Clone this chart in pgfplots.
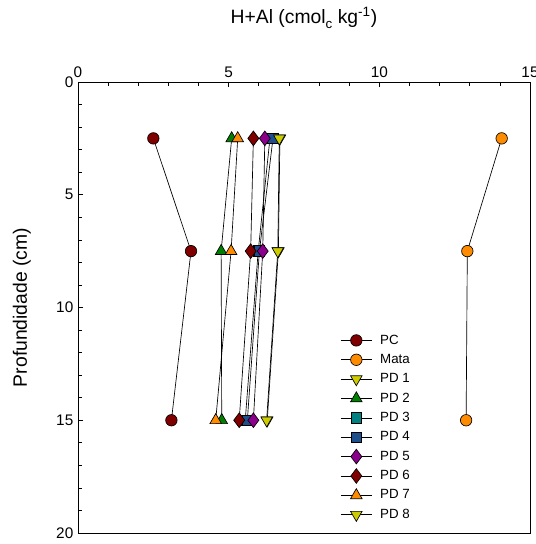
\documentclass[border=0pt]{standalone}
\usepackage{fontspec}
\setmainfont{Liberation Sans}
\usepackage{pgfplots}
\pgfplotsset{compat=1.18}

\definecolor{cPC}{HTML}{800000}
\definecolor{cMata}{HTML}{FF8C00}
\definecolor{cYel}{HTML}{CCCC00}
\definecolor{cGrn}{HTML}{008000}
\definecolor{cTeal}{HTML}{008080}
\definecolor{cBlue}{HTML}{1F4E8C}
\definecolor{cPurp}{HTML}{8B008B}

\begin{document}
\begin{tikzpicture}
\begin{axis}[
    name=ax,
    scale only axis,
    width=339pt, height=338.25pt,
    xmin=0, xmax=15, ymin=0, ymax=20,
    y dir=reverse,
    xtick={0,5,10,15}, ytick={0,5,10,15,20},
    minor x tick num=4, minor y tick num=4,
    xtick pos=upper, xticklabel pos=upper,
    ytick pos=left,
    tick align=inside,
    major tick length=4pt, minor tick length=3pt,
    tick style={black, line width=0.5pt},
    axis line style={line width=0.6pt},
    /pgf/number format/assume math mode=true,
    ticklabel style={font=\fontsize{11.5}{12}\selectfont},
    title={H+Al (cmol\raisebox{-0.55ex}{\fontsize{10}{10}\selectfont c} kg\textsuperscript{-1})},
    title style={at={(0.5,1.113)}, anchor=base, font=\fontsize{14.5}{16}\selectfont},
    ylabel={Profundidade (cm)},
    ylabel style={at={(-0.124,0.5)}, anchor=center, font=\fontsize{14.5}{16}\selectfont},
    legend style={at={(0.572,0.452)}, anchor=north west, draw=none, fill=none,
        font=\fontsize{10}{11}\selectfont, row sep=2.1pt},
    legend cell align=left,
    legend image code/.code={\draw[mark repeat=2,mark phase=2] plot coordinates {(0cm,0cm)(0.4cm,0cm)(0.8cm,0cm)};\path (0.95cm,0cm);},
    every axis plot/.append style={black, line width=0.5pt},
]
\addplot[mark=*, mark size=4.3pt, mark options={fill=cPC}] coordinates {(2.50,2.5) (3.75,7.5) (3.10,15)};
\addlegendentry{PC}
\addplot[mark=*, mark size=4.3pt, mark options={fill=cMata}] coordinates {(14.06,2.5) (12.92,7.5) (12.88,15)};
\addlegendentry{Mata}
\addplot[mark=triangle*, mark size=5pt, mark options={fill=cYel, rotate=180}] coordinates {(6.70,2.5) (6.65,7.5) (6.28,15)};
\addlegendentry{PD 1}
\addplot[mark=triangle*, mark size=5pt, mark options={fill=cGrn}] coordinates {(5.10,2.5) (4.75,7.5) (4.77,15)};
\addlegendentry{PD 2}
\addplot[mark=square*, mark size=4pt, mark options={fill=cTeal}] coordinates {(6.37,2.5) (5.98,7.5) (5.55,15)};
\addlegendentry{PD 3}
\addplot[mark=square*, mark size=4pt, mark options={fill=cBlue}] coordinates {(6.47,2.5) (6.02,7.5) (5.62,15)};
\addlegendentry{PD 4}
\addplot[mark=diamond*, mark size=5.5pt, mark options={fill=cPurp}] coordinates {(6.20,2.5) (6.13,7.5) (5.82,15)};
\addlegendentry{PD 5}
\addplot[mark=diamond*, mark size=5.5pt, mark options={fill=cPC}] coordinates {(5.82,2.5) (5.73,7.5) (5.35,15)};
\addlegendentry{PD 6}
\addplot[mark=triangle*, mark size=5pt, mark options={fill=cMata}] coordinates {(5.30,2.5) (5.08,7.5) (4.57,15)};
\addlegendentry{PD 7}
\addplot[mark=triangle*, mark size=5pt, mark options={fill=cYel, rotate=180}] coordinates {(6.68,2.5) (6.63,7.5) (6.26,15)};
\addlegendentry{PD 8}
\end{axis}
\pgfresetboundingbox
\path[use as bounding box] ([xshift=-58.5pt,yshift=-8.25pt]ax.south west) rectangle ([xshift=3.75pt,yshift=61.5pt]ax.north east);
\end{tikzpicture}
\end{document}
